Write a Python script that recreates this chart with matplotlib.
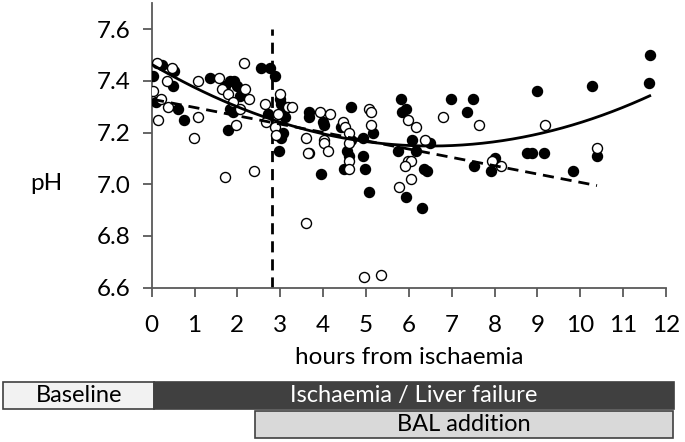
import numpy as np
import matplotlib
matplotlib.use("Agg")
import matplotlib.pyplot as plt
from matplotlib.patches import Rectangle

plt.rcParams['font.family'] = ['Lato', 'DejaVu Sans']

# --- data ---
filled_h = [0.03, 0.23, 0.53, 0.50, 0.10, 0.62, 0.76, 1.36, 1.72, 1.82, 1.92, 1.98, 2.06,
            1.82, 1.89, 1.78, 2.54, 2.77, 2.87, 2.71, 3.00, 3.02, 3.06, 3.10, 3.02, 2.97,
            3.06, 3.68, 3.68, 3.68, 3.96, 3.99, 4.03, 4.41, 4.65, 4.55, 4.60, 4.48, 4.65,
            4.92, 4.94, 4.98, 5.07, 5.16, 5.82, 5.84, 5.93, 5.74, 6.08, 6.16, 5.93, 6.49,
            6.35, 6.42, 6.31, 6.99, 7.50, 7.35, 7.52, 7.91, 8.02, 8.76, 8.87, 8.99, 9.15,
            9.82, 10.28, 10.39, 11.61, 11.62]
filled_ph = [7.42, 7.46, 7.44, 7.38, 7.32, 7.29, 7.25, 7.41, 7.38, 7.40, 7.40, 7.38, 7.34,
             7.29, 7.28, 7.21, 7.45, 7.45, 7.42, 7.27, 7.33, 7.31, 7.27, 7.26, 7.18, 7.13,
             7.20, 7.28, 7.26, 7.12, 7.04, 7.24, 7.23, 7.22, 7.30, 7.13, 7.11, 7.06, 7.17,
             7.18, 7.11, 7.06, 6.97, 7.20, 7.33, 7.28, 7.29, 7.13, 7.17, 7.13, 6.95, 7.16,
             7.06, 7.05, 6.91, 7.33, 7.33, 7.28, 7.07, 7.05, 7.10, 7.12, 7.12, 7.36, 7.12,
             7.05, 7.38, 7.11, 7.39, 7.50]

open_h = [0.13, 0.03, 0.35, 0.22, 0.38, 0.15, 0.48, 1.08, 1.08, 0.99, 1.56, 1.63, 1.78,
          1.89, 2.17, 2.28, 2.15, 1.96, 1.71, 2.38, 2.64, 2.66, 2.06, 3.00, 2.95, 2.87,
          2.89, 3.18, 3.27, 3.60, 3.64, 3.60, 3.92, 4.17, 4.01, 4.03, 4.11, 4.46, 4.50,
          4.61, 4.61, 4.60, 4.61, 5.08, 5.12, 5.12, 4.96, 5.35, 5.97, 6.16, 5.97, 6.05,
          5.92, 6.05, 5.76, 6.38, 6.80, 7.63, 7.95, 8.14, 9.17, 10.39]
open_ph = [7.47, 7.36, 7.40, 7.33, 7.30, 7.25, 7.45, 7.40, 7.26, 7.18, 7.41, 7.37, 7.35,
           7.32, 7.37, 7.33, 7.47, 7.23, 7.03, 7.05, 7.31, 7.24, 7.29, 7.35, 7.27, 7.22,
           7.19, 7.30, 7.30, 7.18, 7.12, 6.85, 7.28, 7.27, 7.17, 7.16, 7.13, 7.24, 7.22,
           7.20, 7.16, 7.09, 7.06, 7.29, 7.28, 7.23, 6.64, 6.65, 7.25, 7.22, 7.09, 7.09,
           7.07, 7.02, 6.99, 7.17, 7.26, 7.23, 7.09, 7.07, 7.23, 7.14]

bal_start = 2.81  # ligne verticale pointillée
phases = ['Baseline', 'Ischaemia / Liver failure', 'BAL addition']
# ---------------------------

W, H = 685, 442
fig = plt.figure(figsize=(W / 100, H / 100), dpi=100)
ax = fig.add_axes([151.7 / W, 1 - 287.7 / H, (666 - 151.7) / W, (287.7 - 3.3) / H])

ax.scatter(filled_h, filled_ph, s=52, c='black', edgecolors='black', linewidths=1, zorder=3)
ax.scatter(open_h, open_ph, s=52, facecolors='white', edgecolors='black', linewidths=1, zorder=3)

# tendances : polynôme d'ordre 2 (pleins), linéaire (vides)
p2 = np.polyfit(filled_h, filled_ph, 2)
xs = np.linspace(min(filled_h), max(filled_h), 200)
ax.plot(xs, np.polyval(p2, xs), color='black', lw=2, zorder=4)
p1 = np.polyfit(open_h, open_ph, 1)
xo = np.linspace(min(open_h), max(open_h), 200)
ax.plot(xo, np.polyval(p1, xo), color='black', lw=2, ls=(0, (4, 2.5)), zorder=4)

ax.plot([bal_start, bal_start], [6.6, 7.6], color='black', lw=2, ls=(0, (4, 2.5)), zorder=2)

ax.set_xlim(0, 12)
ax.set_ylim(6.6, 7.7)
ax.set_xticks(range(0, 13))
ax.set_yticks([6.6, 6.8, 7.0, 7.2, 7.4, 7.6])
ax.set_yticklabels(['6.6', '6.8', '7.0', '7.2', '7.4', '7.6'])
for s in ['top', 'right']:
    ax.spines[s].set_visible(False)
for s in ['left', 'bottom']:
    ax.spines[s].set_color('#595959')
    ax.spines[s].set_linewidth(1.3)
ax.tick_params(colors='#595959', labelcolor='black', labelsize=17.5, length=6.5, width=1.3, pad=9)
ax.tick_params(axis='x', pad=13)
ax.set_xlabel('hours from ischaemia', fontsize=17.5, labelpad=8)
ax.set_ylabel('pH', fontsize=17.5, rotation=0, ha='center', va='center')
ax.yaxis.set_label_coords((46 - 151.7) / (666 - 151.7), (287.7 - 183) / (287.7 - 3.3))


# bandeaux des phases (coordonnées en pixels de la figure)
def box(x0, y0, x1, y1, fc):
    fig.add_artist(Rectangle((x0 / W, 1 - y1 / H), (x1 - x0) / W, (y1 - y0) / H,
                             transform=fig.transFigure, facecolor=fc, edgecolor='#404040', lw=1.2))
    return (x0 + x1) / 2 / W, 1 - (y0 + y1) / 2 / H


cx, cy = box(3.3, 381.7, 154.3, 409, '#f2f2f2')
fig.text(cx, cy, phases[0], ha='center', va='center', fontsize=17)
cx, cy = box(154.3, 381.7, 674, 409, '#404040')
fig.text(cx, cy, phases[1], ha='center', va='center', fontsize=17, color='white')
cx, cy = box(255, 410.7, 673, 438.3, '#d9d9d9')
fig.text(cx, cy, phases[2], ha='center', va='center', fontsize=17)

fig.savefig('out.png', dpi=100)
